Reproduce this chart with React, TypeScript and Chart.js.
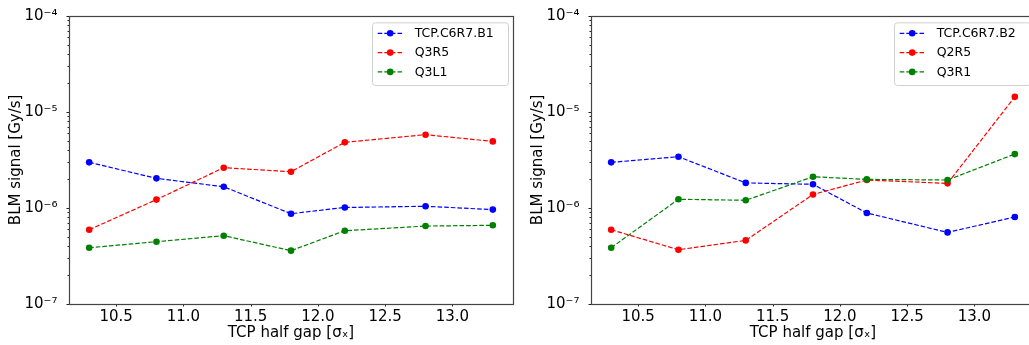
import React, { useEffect, useRef } from "react";
import { Chart, registerables } from "chart.js";

Chart.register(...registerables);
Chart.defaults.font.family = "'DejaVu Sans', sans-serif";
Chart.defaults.color = "#000";

// ---- data ----
const xValues = [10.3, 10.8, 11.3, 11.8, 12.2, 12.8, 13.3];
const xTickValues = [10.5, 11.0, 11.5, 12.0, 12.5, 13.0];
const yTickValues = [1e-7, 1e-6, 1e-5, 1e-4];
const yTickLabels = ["10⁻⁷", "10⁻⁶", "10⁻⁵", "10⁻⁴"];

const leftLabels = ["TCP.C6R7.B1", "Q3R5", "Q3L1"];
const leftB1 = [2.98e-6, 2.03e-6, 1.66e-6, 8.7e-7, 1.01e-6, 1.04e-6, 9.6e-7];
const leftQ3R5 = [5.93e-7, 1.22e-6, 2.62e-6, 2.38e-6, 4.81e-6, 5.78e-6, 4.92e-6];
const leftQ3L1 = [3.85e-7, 4.45e-7, 5.14e-7, 3.59e-7, 5.79e-7, 6.47e-7, 6.59e-7];

const rightLabels = ["TCP.C6R7.B2", "Q2R5", "Q3R1"];
const rightB2 = [2.98e-6, 3.41e-6, 1.82e-6, 1.76e-6, 8.85e-7, 5.56e-7, 8.04e-7];
const rightQ2R5 = [5.93e-7, 3.67e-7, 4.59e-7, 1.38e-6, 1.95e-6, 1.8e-6, 1.43e-5];
const rightQ3R1 = [3.85e-7, 1.23e-6, 1.2e-6, 2.11e-6, 1.98e-6, 1.95e-6, 3.63e-6];

const seriesColors = ["#0000ff", "#ff0000", "#008000"];

const xTitle = "TCP half gap [σₓ]";
const yTitle = "BLM signal [Gy/s]";

const CANVAS_W = 520;
const CANVAS_H = 345;

const decorPlugin = {
  id: "mplDecor",
  afterDatasetsDraw(chart: any) {
    const { ctx, chartArea: a, scales } = chart;
    const xs = scales.x;
    const ys = scales.y;
    ctx.save();
    ctx.strokeStyle = "#222";
    ctx.lineWidth = 1;
    // minor y ticks
    for (let e = -7; e < -4; e++) {
      for (let k = 2; k <= 9; k++) {
        const py = Math.round(ys.getPixelForValue(k * Math.pow(10, e))) + 0.5;
        ctx.beginPath();
        ctx.moveTo(a.left - 1.5, py);
        ctx.lineTo(a.left, py);
        ctx.stroke();
      }
    }
    // major y ticks
    yTickValues.forEach((v) => {
      const py = Math.round(ys.getPixelForValue(v)) + 0.5;
      ctx.beginPath();
      ctx.moveTo(a.left - 2.5, py);
      ctx.lineTo(a.left, py);
      ctx.stroke();
    });
    // major x ticks
    xTickValues.forEach((v) => {
      const px = Math.round(xs.getPixelForValue(v)) + 0.5;
      ctx.beginPath();
      ctx.moveTo(px, a.bottom);
      ctx.lineTo(px, a.bottom + 2.5);
      ctx.stroke();
    });
    // frame
    ctx.strokeStyle = "#444";
    ctx.lineWidth = 1.2;
    const l = Math.round(a.left) + 0.5;
    const t = Math.round(a.top) + 0.5;
    const r = Math.round(a.right) + 0.5;
    const b = Math.round(a.bottom) + 0.5;
    ctx.strokeRect(l, t, r - l, b - t);

    // legend
    const bw = 136;
    const bh = 62.7;
    const bx = a.right - 5 - bw;
    const by = a.top + 6.6;
    ctx.beginPath();
    (ctx as any).roundRect(bx + 0.5, by + 0.5, bw, bh, 3);
    ctx.fillStyle = "rgba(255,255,255,0.8)";
    ctx.fill();
    ctx.strokeStyle = "#d0d0d0";
    ctx.lineWidth = 1;
    ctx.stroke();
    chart.data.datasets.forEach((ds: any, i: number) => {
      const ry = by + 11 + i * 19.3;
      ctx.strokeStyle = ds.borderColor;
      ctx.lineWidth = 1.2;
      ctx.setLineDash([4.6, 2]);
      ctx.beginPath();
      ctx.moveTo(bx + 5.7, ry);
      ctx.lineTo(bx + 30.7, ry);
      ctx.stroke();
      ctx.setLineDash([]);
      ctx.fillStyle = ds.borderColor;
      ctx.beginPath();
      ctx.arc(bx + 18.2, ry, 3.3, 0, Math.PI * 2);
      ctx.fill();
      ctx.fillStyle = "#000";
      ctx.font = "12.5px 'DejaVu Sans', sans-serif";
      ctx.textBaseline = "middle";
      ctx.textAlign = "left";
      ctx.fillText(ds.label, bx + 42.7, ry + 0.5);
    });
    ctx.restore();
  },
};

function makeConfig(labels: string[], values: number[][]): any {
  return {
    type: "line",
    data: {
      datasets: labels.map((label, i) => ({
        label,
        data: xValues.map((x, j) => ({ x, y: values[i][j] })),
        borderColor: seriesColors[i],
        backgroundColor: seriesColors[i],
        borderWidth: 1.2,
        borderDash: [4.6, 2],
        pointRadius: 3.3,
        pointBorderWidth: 0,
        pointBackgroundColor: seriesColors[i],
        tension: 0,
        fill: false,
        order: labels.length - i,
      })),
    },
    options: {
      responsive: false,
      animation: false,
      devicePixelRatio: 1,
      layout: { padding: { left: 0, right: 7, top: 15.7, bottom: 0 } },
      plugins: {
        legend: { display: false },
        tooltip: { enabled: false },
        title: { display: false },
      },
      scales: {
        x: {
          type: "linear",
          min: 10.15,
          max: 13.45,
          grid: { display: false },
          border: { display: false },
          afterBuildTicks: (s: any) => {
            s.ticks = xTickValues.map((v) => ({ value: v }));
          },
          afterFit: (s: any) => {
            s.height = 41;
          },
          ticks: {
            padding: -4,
            font: { size: 15 },
            color: "#000",
            autoSkip: false,
            maxRotation: 0,
            callback: (v: any) => Number(v).toFixed(1),
          },
          title: {
            display: true,
            text: xTitle,
            font: { size: 15 },
            color: "#000",
            padding: { top: 0, bottom: 3 },
          },
        },
        y: {
          type: "logarithmic",
          min: 1e-7,
          max: 1e-4,
          grid: { display: false },
          border: { display: false },
          afterBuildTicks: (s: any) => {
            s.ticks = yTickValues.map((v) => ({ value: v }));
          },
          afterFit: (s: any) => {
            s.width = 69;
          },
          ticks: {
            padding: 3.5,
            font: { size: 15 },
            color: "#000",
            autoSkip: false,
            callback: (_v: any, i: number) => yTickLabels[i],
          },
          title: {
            display: true,
            text: yTitle,
            font: { size: 15 },
            color: "#000",
            padding: { top: 7.5, bottom: 0 },
          },
        },
      },
    },
    plugins: [decorPlugin],
  };
}

function Panel(props: { left: number; labels: string[]; values: number[][] }) {
  const ref = useRef<HTMLCanvasElement>(null);
  useEffect(() => {
    const chart = new Chart(ref.current as HTMLCanvasElement, makeConfig(props.labels, props.values));
    return () => chart.destroy();
  }, []);
  return (
    <canvas
      ref={ref}
      width={CANVAS_W}
      height={CANVAS_H}
      style={{ position: "absolute", left: props.left, top: 0, width: CANVAS_W, height: CANVAS_H }}
    />
  );
}

export default function App() {
  return (
    <div
      style={{
        position: "fixed",
        left: 0,
        top: 0,
        width: 1029,
        height: 345,
        overflow: "hidden",
        background: "#fff",
      }}
    >
      <Panel left={0} labels={leftLabels} values={[leftB1, leftQ3R5, leftQ3L1]} />
      <Panel left={522} labels={rightLabels} values={[rightB2, rightQ2R5, rightQ3R1]} />
    </div>
  );
}
